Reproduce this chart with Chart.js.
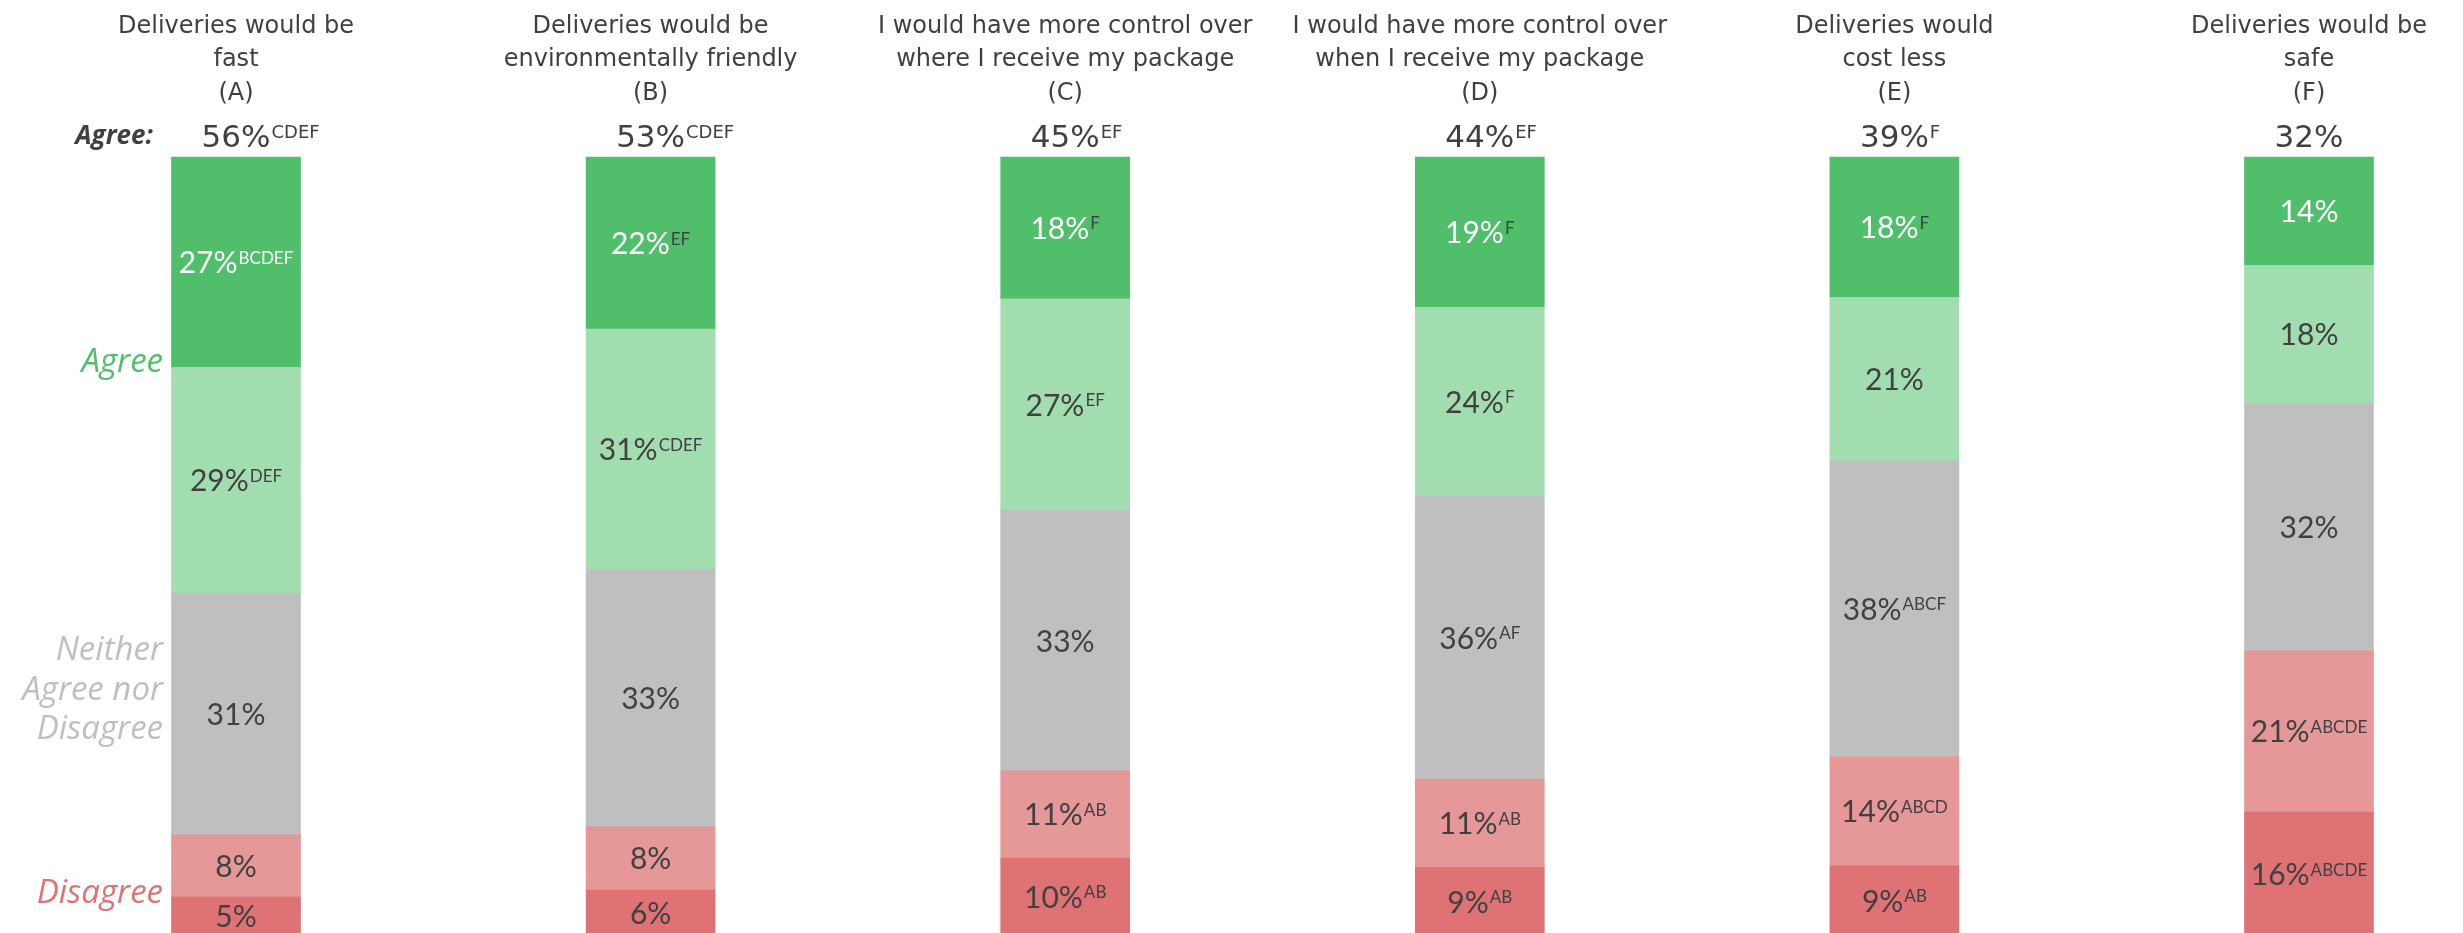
<!DOCTYPE html>
<html>
<head>
<meta charset="utf-8">
<script src="https://cdn.jsdelivr.net/npm/chart.js@4.4.1/dist/chart.umd.min.js"></script>
<style>
html,body{margin:0;padding:0;background:#fff;overflow:hidden;width:2463px;height:933px}
canvas{display:block}
</style>
</head>
<body>
<canvas id="c" width="2463" height="940"></canvas>
<script>
// ---- data ----
const categories = ["A","B","C","D","E","F"];
const titleLine1 = ["Deliveries would be","Deliveries would be","I would have more control over","I would have more control over","Deliveries would","Deliveries would be"];
const titleLine2 = ["fast","environmentally friendly","where I receive my package","when I receive my package","cost less","safe"];
const titleLine3 = ["(A)","(B)","(C)","(D)","(E)","(F)"];
const agreeTotals = [56,53,45,44,39,32];
const agreeSig = ["CDEF","CDEF","EF","EF","F",""];

const stronglyAgree = [27.0,22.1,18.2,19.3,18.0,13.9];
const stronglyAgreeSig = ["BCDEF","EF","F","F","F",""];
const somewhatAgree = [29.0,30.9,27.2,24.3,21.0,17.8];
const somewhatAgreeSig = ["DEF","CDEF","EF","F","",""];
const neither = [31.0,33.0,33.4,36.3,38.0,31.7];
const neitherSig = ["","","","AF","ABCF",""];
const somewhatDisagree = [8.0,8.1,11.2,11.3,14.0,20.7];
const somewhatDisagreeSig = ["","","AB","AB","ABCD","ABCDE"];
const stronglyDisagree = [5.0,5.9,10.0,8.8,9.0,15.9];
const stronglyDisagreeSig = ["","","AB","AB","AB","ABCDE"];

// ---- style ----
const TXT = '#404040';
const DARK_GREEN = '#50BE6A', LIGHT_GREEN = '#A2DDAF', GRAY = '#BFBFBF', LIGHT_RED = '#E69797', DARK_RED = '#DE7275';
const TITLE_FONT = '"DejaVu Sans", sans-serif';
const LABEL_FONT = 'Lato, "Open Sans", sans-serif';
const SIDE_FONT = '"Open Sans", sans-serif';

function mkDs(label, data, sig, color, txtColor, supColors){
  return {label, data, sig, backgroundColor: color, txtColor, supColors,
          borderWidth: 0, barThickness: 129, clip: false};
}

const labelPlugin = {
  id: 'segLabels',
  afterDatasetsDraw(chart){
    const ctx = chart.ctx;
    ctx.save();
    chart.data.datasets.forEach((ds, di) => {
      const meta = chart.getDatasetMeta(di);
      meta.data.forEach((bar, i) => {
        const v = ds.data[i];
        const main = Math.round(v) + '%';
        const sup = ds.sig[i];
        const cy = (bar.y + bar.base) / 2;
        const mainSize = 30, supSize = 17;
        ctx.font = mainSize + 'px ' + LABEL_FONT;
        const w1 = ctx.measureText(main).width;
        ctx.font = supSize + 'px ' + LABEL_FONT;
        const w2 = sup ? ctx.measureText(sup).width + 1 : 0;
        const x0 = bar.x - (w1 + w2) / 2;
        const base = cy + mainSize * 0.72 / 2;
        ctx.textAlign = 'left';
        ctx.textBaseline = 'alphabetic';
        ctx.fillStyle = ds.txtColor;
        ctx.font = mainSize + 'px ' + LABEL_FONT;
        ctx.fillText(main, x0, base);
        if (sup) {
          ctx.fillStyle = ds.supColors ? ds.supColors[i] : ds.txtColor;
          ctx.font = supSize + 'px ' + LABEL_FONT;
          ctx.fillText(sup, x0 + w1 + 1, base - mainSize * 0.72 + supSize * 0.72);
        }
      });
    });
    ctx.restore();
  },
  afterDraw(chart){
    const ctx = chart.ctx;
    const xs = chart.scales.x;
    ctx.save();
    ctx.fillStyle = TXT;
    ctx.textBaseline = 'alphabetic';
    categories.forEach((c, i) => {
      const x = xs.getPixelForValue(i);
      ctx.font = '24px ' + TITLE_FONT;
      ctx.fillStyle = TXT;
      ctx.textAlign = 'center';
      ctx.fillText(titleLine1[i], x, 33);
      ctx.fillText(titleLine2[i], x, 66);
      ctx.fillText(titleLine3[i], x, 100);
      // agree total
      const main = agreeTotals[i] + '%';
      ctx.font = '31px ' + TITLE_FONT;
      const w = ctx.measureText(main).width;
      ctx.fillText(main, x, 147);
      if (agreeSig[i]) {
        ctx.font = '18px ' + TITLE_FONT;
        ctx.textAlign = 'left';
        ctx.fillText(agreeSig[i], x + w / 2 + 1, 147 - 31 * 0.73 + 18 * 0.73);
      }
    });
    // side labels
    ctx.textAlign = 'right';
    ctx.fillStyle = TXT;
    ctx.font = 'italic bold 26px ' + SIDE_FONT;
    ctx.fillText('Agree:', 153, 144);
    ctx.font = 'italic 33px ' + SIDE_FONT;
    ctx.fillStyle = DARK_GREEN;
    ctx.fillText('Agree', 163, 372);
    ctx.fillStyle = GRAY;
    ctx.fillText('Neither', 163, 660);
    ctx.fillText('Agree nor', 163, 700);
    ctx.fillText('Disagree', 163, 739);
    ctx.fillStyle = DARK_RED;
    ctx.fillText('Disagree', 163, 903);
    ctx.restore();
  }
};

new Chart(document.getElementById('c'), {
  type: 'bar',
  data: {
    labels: categories,
    datasets: [
      mkDs('Strongly disagree', stronglyDisagree, stronglyDisagreeSig, DARK_RED, TXT),
      mkDs('Somewhat disagree', somewhatDisagree, somewhatDisagreeSig, LIGHT_RED, TXT),
      mkDs('Neither', neither, neitherSig, GRAY, TXT),
      mkDs('Somewhat agree', somewhatAgree, somewhatAgreeSig, LIGHT_GREEN, TXT),
      mkDs('Strongly agree', stronglyAgree, stronglyAgreeSig, DARK_GREEN, '#ffffff', ['#ffffff', TXT, TXT, TXT, TXT, TXT])
    ]
  },
  options: {
    responsive: false,
    animation: false,
    devicePixelRatio: 1,
    layout: {padding: {left: 236, right: 154, top: 157, bottom: 4}},
    plugins: {legend: {display: false}, tooltip: {enabled: false}, title: {display: false}},
    scales: {
      x: {stacked: true, offset: false, display: false, grid: {display: false}},
      y: {stacked: true, min: 0, max: 100, display: false, grid: {display: false}}
    }
  },
  plugins: [labelPlugin]
});
</script>
</body>
</html>
